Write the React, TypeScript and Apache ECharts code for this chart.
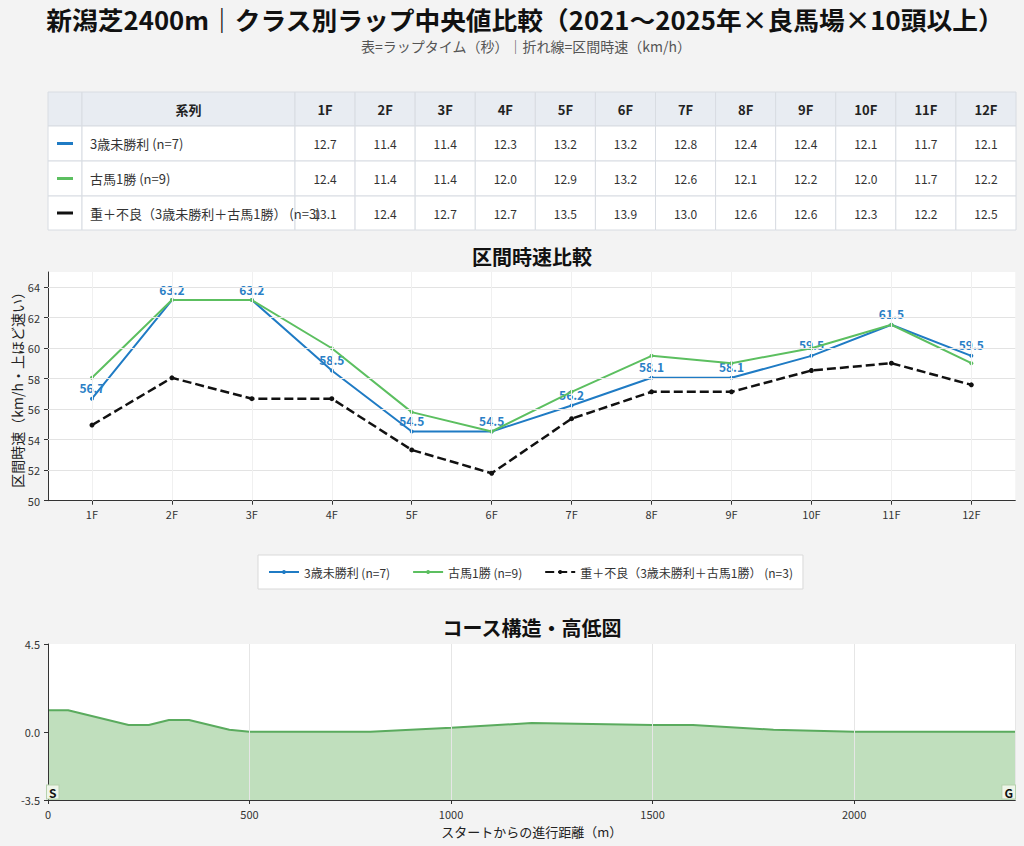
import React, { useEffect, useRef } from 'react';
import * as echarts from 'echarts';

const FONT = '"Noto Sans CJK JP", "Noto Sans", sans-serif';

const CATEGORIES = ['1F', '2F', '3F', '4F', '5F', '6F', '7F', '8F', '9F', '10F', '11F', '12F'];
const SERIES_NAMES = ['3歳未勝利 (n=7)', '古馬1勝 (n=9)', '重＋不良（3歳未勝利＋古馬1勝） (n=3)'];
const SERIES_COLORS = ['#1f7bc4', '#5cbf60', '#111111'];

// lap times (sec)
const LAP_3YO = [12.7, 11.4, 11.4, 12.3, 13.2, 13.2, 12.8, 12.4, 12.4, 12.1, 11.7, 12.1];
const LAP_1WIN = [12.4, 11.4, 11.4, 12.0, 12.9, 13.2, 12.6, 12.1, 12.2, 12.0, 11.7, 12.2];
const LAP_HEAVY = [13.1, 12.4, 12.7, 12.7, 13.5, 13.9, 13.0, 12.6, 12.6, 12.3, 12.2, 12.5];

// section speeds (km/h)
const SPD_3YO = [56.69, 63.16, 63.16, 58.54, 54.54, 54.54, 56.24, 58.06, 58.06, 59.5, 61.54, 59.5];
const SPD_1WIN = [58.06, 63.16, 63.16, 60.0, 55.81, 54.54, 57.14, 59.5, 59.02, 60.0, 61.54, 59.02];
const SPD_HEAVY = [54.96, 58.06, 56.69, 56.69, 53.33, 51.8, 55.38, 57.14, 57.14, 58.54, 59.02, 57.6];

const Y_TICKS = [50, 52, 54, 56, 58, 60, 62, 64];

// course elevation
const DIST = [0, 50, 200, 250, 300, 350, 450, 500, 800, 1000, 1200, 1500, 1600, 1800, 2000, 2400];
const ELEV = [1.1, 1.1, 0.35, 0.35, 0.6, 0.6, 0.1, 0, 0, 0.2, 0.45, 0.35, 0.35, 0.1, 0, 0];
const ELEV_TICKS = [-3.5, 0, 4.5];

export default function App() {
  const ref = useRef<HTMLDivElement>(null);

  useEffect(() => {
    document.body.style.margin = '0';
    document.body.style.background = '#f3f3f3';
    const chart = echarts.init(ref.current!, null, { renderer: 'svg' });

    const laps = [LAP_3YO, LAP_1WIN, LAP_HEAVY];
    const speeds = [SPD_3YO, SPD_1WIN, SPD_HEAVY];

    // table graphic
    const rowY = [92, 126, 161, 196, 230];
    const colX = [48, 82, 295];
    const colW = (1016 - 295) / 12;
    for (let i = 1; i <= 12; i++) colX.push(295 + colW * i);
    const cells: any[] = [];
    const texts: any[] = [];
    for (let r = 0; r < 4; r++) {
      for (let c = 0; c < colX.length - 1; c++) {
        cells.push({
          type: 'rect',
          shape: { x: colX[c], y: rowY[r], width: colX[c + 1] - colX[c], height: rowY[r + 1] - rowY[r] },
          style: { fill: r === 0 ? '#e8ecf2' : '#ffffff', stroke: '#d8dce2', lineWidth: 1 },
        });
      }
    }
    const midY = (r: number) => (rowY[r] + rowY[r + 1]) / 2;
    texts.push({
      type: 'text',
      x: (colX[1] + colX[2]) / 2,
      y: midY(0),
      style: { text: '系列', font: `bold 13px ${FONT}`, fill: '#222', align: 'center', verticalAlign: 'middle' },
    });
    CATEGORIES.forEach((cat, i) => {
      texts.push({
        type: 'text',
        x: (colX[i + 2] + colX[i + 3]) / 2,
        y: midY(0),
        style: { text: cat, font: `bold 13px ${FONT}`, fill: '#222', align: 'center', verticalAlign: 'middle' },
      });
    });
    SERIES_NAMES.forEach((name, s) => {
      const r = s + 1;
      cells.push({
        type: 'line',
        shape: { x1: 57, y1: midY(r), x2: 73, y2: midY(r) },
        style: { stroke: SERIES_COLORS[s], lineWidth: 3 },
      });
      texts.push({
        type: 'text',
        x: 90,
        y: midY(r),
        style: { text: name, font: `13px ${FONT}`, fill: '#333', align: 'left', verticalAlign: 'middle' },
      });
      laps[s].forEach((v, i) => {
        texts.push({
          type: 'text',
          x: (colX[i + 2] + colX[i + 3]) / 2,
          y: midY(r),
          style: { text: v.toFixed(1), font: `12px ${FONT}`, fill: '#333', align: 'center', verticalAlign: 'middle' },
        });
      });
    });

    const titles = [
      { type: 'text', x: 525, y: 19, scaleX: 1.03, originX: 0, originY: 0, style: { text: '新潟芝2400m｜クラス別ラップ中央値比較（2021～2025年×良馬場×10頭以上）', font: `bold 25px ${FONT}`, fill: '#111', align: 'center', verticalAlign: 'middle' } },
      { type: 'text', x: 526, y: 46, style: { text: '表=ラップタイム（秒）｜折れ線=区間時速（km/h）', font: `14px ${FONT}`, fill: '#555', align: 'center', verticalAlign: 'middle' } },
      { type: 'text', x: 532, y: 256, style: { text: '区間時速比較', font: `bold 20px ${FONT}`, fill: '#111', align: 'center', verticalAlign: 'middle' } },
      { type: 'text', x: 532, y: 627, style: { text: 'コース構造・高低図', font: `bold 20px ${FONT}`, fill: '#111', align: 'center', verticalAlign: 'middle' } },
      { type: 'text', x: 47, y: 792, z: 100, style: { text: 'S', font: `bold 12px ${FONT}`, fill: '#111', align: 'left', verticalAlign: 'middle', backgroundColor: '#eef5e9', borderColor: '#b5d1ad', borderWidth: 1, padding: [1, 2, 0, 2] } },
      { type: 'text', x: 1015, y: 792, z: 100, style: { text: 'G', font: `bold 12px ${FONT}`, fill: '#111', align: 'right', verticalAlign: 'middle', backgroundColor: '#eef5e9', borderColor: '#b5d1ad', borderWidth: 1, padding: [1, 2, 0, 2] } },
    ];

    const xIdx = CATEGORIES.map((_, i) => i);

    const lineSeries = speeds.map((arr, s) => ({
      name: SERIES_NAMES[s],
      type: 'line',
      xAxisIndex: 0,
      yAxisIndex: 0,
      z: 3 + s,
      data: arr.map((v, i) => [i, v]),
      symbol: 'circle',
      symbolSize: s === 2 ? 5 : 4,
      lineStyle: { color: SERIES_COLORS[s], width: s === 2 ? 2.5 : 2, type: s === 2 ? [9, 4] : 'solid' },
      itemStyle: { color: SERIES_COLORS[s] },
      label: s === 0
        ? {
            show: true,
            position: 'top',
            distance: 3,
            fontSize: 12,
            fontWeight: 'bold',
            fontFamily: FONT,
            color: '#2a7fc6',
            formatter: (p: any) => Number(p.value[1]).toFixed(1),
          }
        : { show: false },
    }));

    const axisLine = { show: true, onZero: false, lineStyle: { color: '#333' } };

    const option: any = {
      animation: false,
      backgroundColor: '#f3f3f3',
      textStyle: { fontFamily: FONT },
      graphic: { elements: [...cells, ...texts, ...titles] },
      legend: {
        data: SERIES_NAMES,
        top: 555,
        left: 258,
        backgroundColor: '#ffffff',
        borderColor: '#d9d9d9',
        borderWidth: 1,
        padding: [10, 10],
        itemWidth: 30,
        itemHeight: 5,
        itemGap: 22,
        textStyle: { fontSize: 12, color: '#333', fontFamily: FONT, lineHeight: 14 },
      },
      grid: [
        { left: 48, right: 8.7, top: 272, bottom: 345.3, show: true, backgroundColor: '#ffffff', borderWidth: 0, outerBoundsMode: 'none', containLabel: false },
        { left: 48, right: 8.7, top: 644, bottom: 46, show: true, backgroundColor: '#ffffff', borderWidth: 0, outerBoundsMode: 'none', containLabel: false },
      ],
      xAxis: [
        {
          type: 'value',
          gridIndex: 0,
          min: -0.55,
          max: 11.55,
          axisLine,
          axisTick: { show: true, length: 4, customValues: xIdx, lineStyle: { color: '#333' } },
          axisLabel: { customValues: xIdx, formatter: (v: number) => CATEGORIES[Math.round(v)], fontSize: 11, color: '#333', fontFamily: FONT },
          splitLine: { show: false },
        },
        {
          type: 'value',
          gridIndex: 1,
          min: 0,
          max: 2400,
          interval: 500,
          z: 10,
          name: 'スタートからの進行距離（m）',
          nameLocation: 'middle',
          nameGap: 25,
          nameTextStyle: { fontSize: 13, color: '#222', fontFamily: FONT },
          axisLine,
          axisTick: { show: true, length: 4, lineStyle: { color: '#333' } },
          axisLabel: { fontSize: 11, color: '#333', showMaxLabel: false, fontFamily: FONT, formatter: (v: number) => String(v) },
          splitLine: { show: true, lineStyle: { color: '#e6e6e6', width: 1 } },
        },
      ],
      yAxis: [
        {
          type: 'value',
          gridIndex: 0,
          min: 50,
          max: 65,
          name: '区間時速（km/h・上ほど速い）',
          nameLocation: 'middle',
          nameGap: 24,
          nameMoveOverlap: false,
          nameTextStyle: { fontSize: 14, color: '#222', fontFamily: FONT },
          axisLine,
          axisTick: { show: true, length: 4, customValues: Y_TICKS, lineStyle: { color: '#333' } },
          axisLabel: { customValues: Y_TICKS, fontSize: 11, color: '#333', fontFamily: FONT },
          splitLine: { show: false },
        },
        {
          type: 'value',
          gridIndex: 1,
          min: -3.5,
          max: 4.5,
          z: 10,
          axisLine,
          axisTick: { show: true, length: 4, customValues: ELEV_TICKS, lineStyle: { color: '#333' } },
          axisLabel: { customValues: ELEV_TICKS, formatter: (v: number) => v.toFixed(1), fontSize: 11, color: '#333', fontFamily: FONT },
          splitLine: { show: false },
        },
      ],
      series: [
        {
          name: 'grid',
          type: 'line',
          xAxisIndex: 0,
          yAxisIndex: 0,
          z: 1,
          data: [],
          silent: true,
          markLine: {
            silent: true,
            symbol: ['none', 'none'],
            label: { show: false },
            animation: false,
            data: [
              ...Y_TICKS.slice(1).map((v) => ({ yAxis: v, lineStyle: { color: '#e3e3e3', width: 1, type: 'solid' } })),
              ...xIdx.map((v) => ({ xAxis: v, lineStyle: { color: '#f0f0f0', width: 1, type: 'solid' } })),
            ],
          },
        },
        ...lineSeries,
        {
          name: 'elevation',
          type: 'line',
          xAxisIndex: 1,
          yAxisIndex: 1,
          data: DIST.map((d, i) => [d, ELEV[i]]),
          symbol: 'none',
          lineStyle: { color: '#5aab5e', width: 2 },
          areaStyle: { color: '#c0dfbd', opacity: 1, origin: 'start' },
          z: 2,
        },
      ],
    };

    chart.setOption(option);
    return () => chart.dispose();
  }, []);

  return <div ref={ref} style={{ width: 1024, height: 846 }} />;
}
